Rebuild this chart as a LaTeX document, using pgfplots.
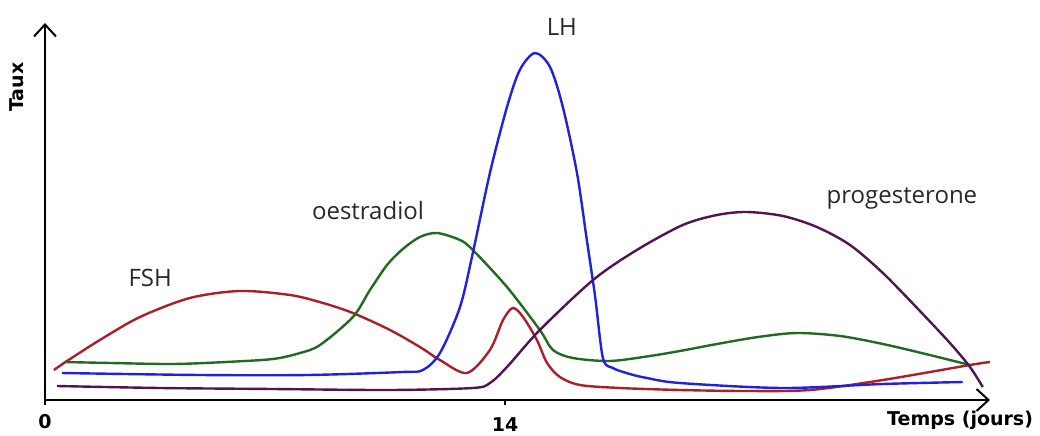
\documentclass[border=0pt]{standalone}
\usepackage{fontspec}
\usepackage{pgfplots}
\pgfplotsset{compat=1.18}
\usetikzlibrary{arrows.meta}
\setmainfont{Open Sans}
\newfontfamily\lblfont{DejaVu Sans}
\newcommand\lbl{\lblfont\bfseries\fontsize{9.5}{11}\selectfont}
\definecolor{fshred}{RGB}{170,32,40}
\definecolor{oegreen}{RGB}{34,105,34}
\definecolor{lhblue}{RGB}{32,32,222}
\definecolor{progpurple}{RGB}{80,20,80}
\definecolor{txt}{RGB}{40,40,40}
\begin{document}
\begin{tikzpicture}
\begin{axis}[
  at={(0,0)}, anchor=south west,
  scale only axis, width=472.5pt, height=188.5pt,
  xmin=0, xmax=28.76, ymin=0, ymax=377,
  axis lines=left,
  axis line style={line width=1pt, -{Straight Barb[length=6pt,width=11pt]}},
  xtick={0}, ytick=\empty,
  xticklabels={\mbox{\lbl 0}},
  extra x ticks={14},
  extra x tick labels={\mbox{\lbl 14}},
  extra x tick style={xticklabel style={yshift=-2pt}},
  tick align=outside, major tick length=2.5pt,
  tick style={black, line width=0.6pt},
  xticklabel style={yshift=-1pt},
  clip=false,
  every axis plot/.append style={smooth, line width=1.2pt, no marks},
]
% FSH
\addplot[fshred] coordinates {
  (0.27,30) (0.67,39) (1.67,60) (2.89,83) (4.41,102) (5.93,109) (7.46,105)
  (8.46,97) (9.37,87) (10.50,70) (11.41,53) (12.02,40) (12.84,27) (13.54,50)
  (13.94,80) (14.24,92) (14.55,83) (14.97,60) (15.28,37) (15.67,23) (16.28,15)
  (17.50,12) (19.32,10) (21.30,9) (23.28,10) (25.50,20) (28.15,35) (28.76,38)};
% oestradiol
\addplot[oegreen] coordinates {
  (0.61,38) (2.00,37) (3.90,36) (5.50,38) (6.94,41) (7.76,47) (8.37,55)
  (9.37,83) (9.89,110) (10.41,135) (10.89,151) (11.41,163) (11.93,167)
  (12.63,160) (13.02,150) (14.06,113) (15.06,70) (15.46,50) (16.07,42)
  (17.19,39) (18.41,44) (19.32,49) (20.45,56) (21.70,63) (22.88,67)
  (24.20,64) (25.50,56) (26.80,46) (28.15,35)};
% LH
\addplot[lhblue] coordinates {
  (0.52,27) (4.72,25) (8.00,25) (10.88,28) (11.50,30) (12.02,47) (12.63,93)
  (13.02,147) (13.54,227) (14.06,293) (14.45,330) (14.91,347) (15.37,333)
  (15.76,293) (16.19,227) (16.49,160) (16.74,104) (16.98,42) (17.28,32)
  (17.80,26) (18.32,22) (19.32,17) (22.46,12) (25.50,16) (27.93,18)};
% progesterone
\addplot[progpurple] coordinates {
  (0.37,14) (3.50,12) (6.94,11) (10.50,10) (13.02,12) (13.54,17) (14.06,33)
  (15.06,70) (16.68,120) (18.01,150) (19.41,175) (20.45,185) (21.36,188)
  (22.46,184) (23.49,173) (24.50,155) (25.50,127) (26.54,92) (27.54,57)
  (28.15,33) (28.54,13)};
\node[txt, font=\fontsize{12}{14}\selectfont] at (axis cs:3.20,122) {FSH};
\node[txt, font=\fontsize{12}{14}\selectfont] at (axis cs:9.83,190) {oestradiol};
\node[txt, font=\fontsize{12}{14}\selectfont] at (axis cs:15.73,373) {LH};
\node[txt, font=\fontsize{12}{14}\selectfont] at (axis cs:26.08,202) {progesterone};
\node[rotate=90, font=\lbl] at (axis cs:-0.85,313) {Taux};
\node[font=\lbl] at (axis cs:27.85,-20) {Temps (jours)};
\end{axis}
\pgfresetboundingbox
\useasboundingbox (-22.5pt,-17.5pt) rectangle (497.5pt,200pt);
\end{tikzpicture}
\end{document}
